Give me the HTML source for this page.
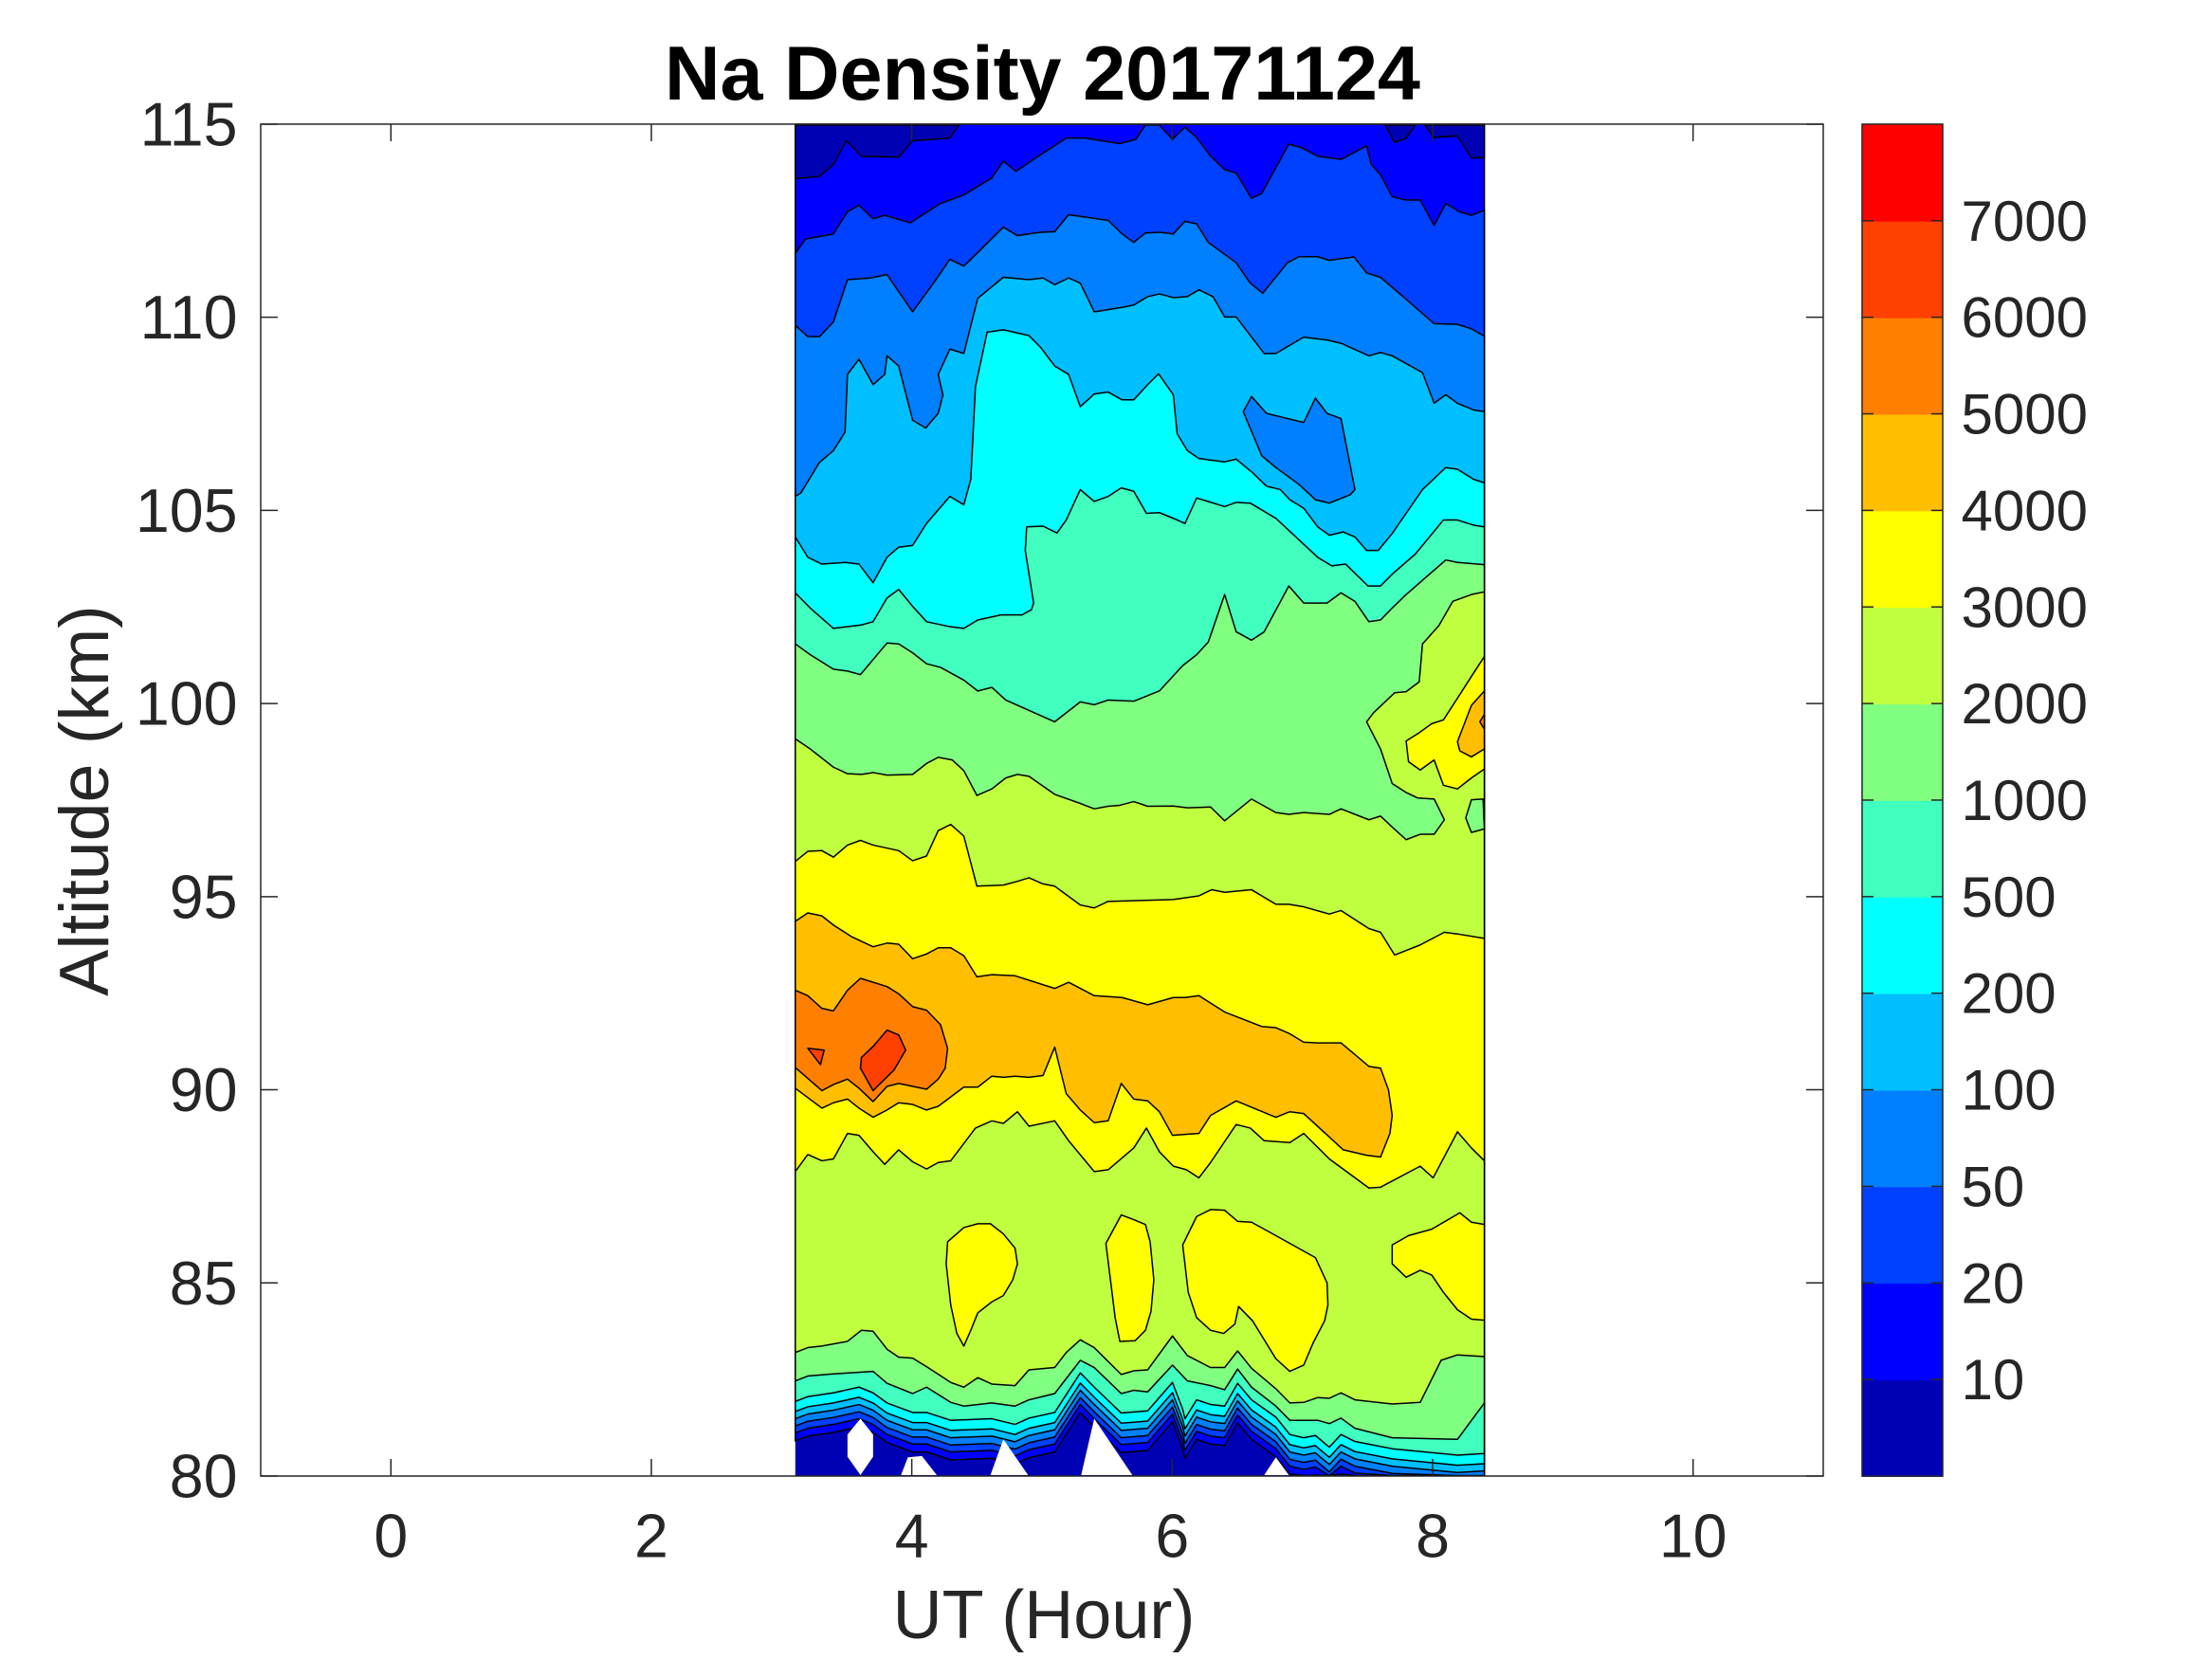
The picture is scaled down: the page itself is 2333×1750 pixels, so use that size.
<!DOCTYPE html>
<html><head><meta charset="utf-8">
<style>html,body{margin:0;padding:0;background:#fff}svg{display:block}</style>
</head><body>
<svg id="s" xmlns="http://www.w3.org/2000/svg" width="2333" height="1750" viewBox="0 0 1555.33 1166.67" font-family="Liberation Sans, Arial, sans-serif">
<rect width="1555.33" height="1166.67" fill="#fff"/>
<g id="data"></g>
<g id="axes" fill="none" stroke="#262626" stroke-width="1">
<rect x="183.3" y="87.3" width="1098.7" height="950.7"/>
</g>
<g id="lab" fill="#262626" font-size="43"></g>
<text x="733" y="70" text-anchor="middle" font-weight="bold" font-size="54" fill="#000">Na Density 20171124</text>
<text x="734" y="1152" text-anchor="middle" font-size="48" fill="#262626">UT (Hour)</text>
<text transform="translate(76,563) rotate(-90)" text-anchor="middle" font-size="49" fill="#262626">Altitude (km)</text>
</svg>
<script>
(function(){
const NS="http://www.w3.org/2000/svg";
const D=document.getElementById('data'),AX=document.getElementById('axes'),L=document.getElementById('lab');
const C=['#0000B4','#0000FF','#0040FF','#0080FF','#00BFFF','#00FFFF','#40FFBF','#80FF80','#BFFF40','#FFFF00','#FFBF00','#FF8000','#FF4000','#FF0000'];
function el(t,a,p){const e=document.createElementNS(NS,t);for(const k in a)e.setAttribute(k,a[k]);(p||D).appendChild(e);return e;}
const fx=z=>553.3+z*0.3274;
function cv(arr,yf){const o=[];for(let i=0;i<arr.length;i+=2)o.push([fx(arr[i]),yf(arr[i+1])]);return o;}
const A=a=>cv(a,z=>80+z*0.2381), B=a=>cv(a,z=>440+z*0.2551), Cc=a=>cv(a,z=>833.3+Math.min(z,920)*0.2222);
const X0=fx(18),X1=fx(1498),Y0=87.3,Y1=1038;
function poly(c,p,noStroke){el('polygon',{points:p.map(q=>q[0].toFixed(1)+','+q[1].toFixed(1)).join(' '),fill:c,stroke:noStroke?'none':'#000','stroke-width':1,'stroke-linejoin':'round'});}
function band(c,up,lo){poly(c,up.concat(lo.slice().reverse()));}
el('rect',{x:X0,y:Y0,width:X1-X0,height:Y1-Y0,fill:C[0]});
const topEdge=[[X0,Y0],[X1,Y0]];
const lo2000=Cc([18,530,45,515,75,510,130,495,160,460,185,463,215,520,240,545,270,548,300,575,352,625,380,640,410,610,440,630,490,635,520,585,575,578,600,530,630,490,660,515,718,600,745,588,775,585,828,478,860,540,910,578,940,578,968,525,998,580,1050,645,1080,690,1110,688,1140,673,1165,675,1190,658,1220,680,1300,693,1360,688,1405,555,1440,538,1498,543]);
const lo1000raw=[18,620,45,605,100,598,185,590,215,628,270,660,300,640,352,688,380,700,440,690,490,700,520,680,575,660,630,555,660,578,718,660,745,650,775,655,828,570,860,620,910,635,940,648,968,583,998,640,1050,700,1080,745,1140,745,1165,755,1190,738,1220,770,1300,800,1440,805,1498,690];
const lo500raw=[18,685,45,670,100,658,155,640,185,658,215,690,270,720,300,720,352,745,440,740,490,758,520,738,575,720,630,595,660,640,718,722,775,715,828,625,850,710,855,740,880,680,910,695,940,700,968,628,998,680,1050,735,1080,790,1110,800,1135,793,1165,830,1190,790,1220,812,1300,835,1440,855,1498,850];
function off(raw,d){const o=[];for(let i=0;i<raw.length;i+=2){o.push(raw[i],Math.min(raw[i+1]+d,920));}return Cc(o);}
const lo={1:off(lo500raw,125),2:off(lo500raw,100),3:off(lo500raw,78),4:off(lo500raw,55),5:off(lo500raw,32),6:Cc(lo500raw),7:Cc(lo1000raw),8:lo2000};
const U={};
U[1]=topEdge;
U[2]=A([18,412,40,370,100,355,130,290,155,270,185,310,210,300,265,322,330,265,380,240,440,190,465,140,492,170,530,135,600,72,640,72,715,88,750,75,770,33,800,33,828,75,855,40,880,70,910,125,940,165,965,175,998,250,1020,235,1078,90,1105,100,1140,125,1190,135,1245,95,1255,150,1275,180,1300,245,1330,255,1360,255,1390,330,1415,265,1445,290,1470,300,1498,285]);
U[3]=A([18,625,45,658,70,658,100,615,130,490,180,485,215,475,270,585,320,490,350,430,380,450,410,410,465,335,495,360,545,350,575,348,605,298,690,315,720,355,745,380,770,352,800,350,830,355,855,318,880,325,905,380,965,440,995,500,1022,530,1075,440,1100,422,1140,422,1165,433,1218,423,1245,470,1275,483,1340,560,1390,620,1440,622,1470,635,1498,657]);
U[4]=A([18,1130,30,1120,70,1030,100,995,125,940,130,770,155,725,185,800,210,770,215,715,240,745,270,905,298,928,325,885,335,830,325,770,350,695,380,708,410,545,465,483,520,490,550,485,575,505,605,485,630,500,660,585,720,572,745,565,775,540,800,532,830,543,860,540,885,520,915,540,940,600,965,600,1025,708,1050,708,1110,660,1160,668,1190,678,1250,715,1275,705,1300,715,1365,765,1390,855,1415,830,1440,855,1475,875,1498,880]);
U[5]=A([18,1250,45,1310,75,1330,125,1325,155,1330,185,1385,215,1310,240,1280,270,1275,300,1210,350,1130,380,1155,395,1080,405,805,430,645,465,638,520,655,545,690,575,745,605,770,630,865,660,828,690,822,720,845,745,845,775,800,798,768,830,830,838,945,860,995,885,1018,940,1028,965,1020,1000,1060,1030,1100,1060,1110,1080,1140,1110,1165,1140,1220,1165,1245,1195,1235,1220,1250,1245,1290,1270,1290,1300,1240,1330,1180,1365,1110,1415,1045,1440,1050,1475,1080,1498,1090]);
U[6]=A([18,1415,50,1460,100,1520,130,1515,160,1510,185,1500,215,1430,240,1405,270,1455,300,1500,350,1515,380,1520,410,1495,460,1480,505,1480,525,1465,530,1445,512,1290,515,1220,550,1218,580,1238,600,1200,630,1110,660,1145,690,1130,718,1105,745,1115,772,1180,800,1178,830,1195,855,1210,880,1135,940,1160,965,1148,995,1150,1050,1195,1140,1310,1170,1335,1200,1330,1248,1395,1275,1395,1300,1360,1350,1300,1410,1200,1440,1200,1475,1215,1498,1220]);
U[7]=B([18,50,50,80,100,120,130,125,158,135,215,48,240,50,270,75,300,105,330,115,380,150,410,180,440,170,470,205,575,265,630,210,660,218,690,205,745,208,800,180,850,110,880,80,905,45]).concat(A([940,1420,965,1530,998,1555,1025,1530,1078,1395,1110,1445,1160,1445,1190,1415,1220,1440,1250,1500,1275,1495,1300,1460,1330,1420,1415,1318,1440,1325,1498,1332]));
U[8]=B([18,312,50,340,100,390,130,408,160,410,185,405,215,412,270,410,300,380,325,363,355,370,380,400,408,468,440,450,470,420,495,410,520,415,575,465,630,490,660,505,690,498,715,495,745,485,775,498,830,497,860,502,910,500,940,538,998,478,1050,515,1078,520,1110,515,1165,520,1190,505,1250,535,1275,525,1300,555,1330,590,1360,575,1390,575,1412,535,1390,478,1355,475,1330,460,1300,435,1275,340,1245,265,1260,240,1305,185,1330,182,1358,155,1365,50,1400,0]).concat(A([1430,1440,1470,1420,1498,1412]));
for(let k=1;k<=8;k++){
  band(C[k],U[k],lo[k]);
  if(k===1){
    poly(C[0],A([18,33,370,33,350,72,270,80,240,128,160,126,128,80,100,150,70,185,18,192]));
    poly(C[0],A([1285,33,1305,85,1330,72,1350,33]));
    poly(C[0],A([1370,33,1390,70,1440,65,1470,130,1498,130,1498,33]));
  }
  if(k===4) poly(C[3],A([998,835,1030,885,1110,912,1135,840,1160,885,1190,900,1220,1110,1210,1125,1165,1150,1135,1140,1100,1095,1050,1045,1020,1010,980,880]));
}
poly(C[7],B([1470,480,1495,478,1498,560,1470,570,1458,530]));
const up3=B([18,650,45,622,75,620,100,638,130,605,158,592,185,605,240,620,270,648,300,635,325,565,352,548,380,580,408,718,465,715,495,705,520,695,550,712,575,718,630,770,660,778,690,760,830,755,885,745,912,728,940,735,998,728,1050,768,1078,768,1110,775,1165,795,1190,785,1250,835,1275,845,1305,908,1360,880,1412,845,1440,850,1498,862]);
const lo3=B([18,1505,45,1458,75,1475,100,1470,130,1400,155,1405,185,1450,210,1485,240,1445,270,1478,300,1498,325,1480,352,1475,405,1385,440,1365,465,1372,495,1340,520,1380,575,1365,605,1420,660,1505,690,1500,745,1440,772,1385,800,1450,830,1490,858,1500,885,1522,910,1480,965,1375,995,1385,1025,1420,1080,1425,1110,1400,1165,1470,1250,1550,1275,1548,1360,1490,1388,1522,1440,1395,1470,1440,1498,1475]);
band(C[9],up3,lo3);
poly(C[9],B([1330,318,1358,295,1385,270,1410,260,1440,200,1470,140,1498,85,1498,395,1470,420,1440,450,1410,440,1390,370,1360,398,1335,375]));
poly(C[10],B([1440,320,1470,220,1498,180,1498,340,1470,362,1445,345]));
poly(C[11],B([1488,265,1498,245,1498,285]));
poly(C[10],B([18,815,45,792,75,800,100,825,140,858,185,885,215,875,240,878,270,918,300,905,325,888,352,888,380,910,408,968,440,962,490,965,575,1000,605,983,660,1020,720,1025,775,1045,830,1025,855,1025,885,1020,940,1065,1020,1105,1050,1108,1080,1125,1110,1148,1140,1150,1190,1150,1250,1215,1275,1220,1292,1280,1300,1350,1295,1400,1275,1465,1245,1460,1195,1445,1110,1345,1080,1340,1050,1355,965,1310,910,1350,885,1400,858,1402,828,1405,800,1340,775,1310,745,1305,718,1262,690,1365,660,1370,630,1335,600,1290,575,1162,550,1240,520,1245,490,1242,465,1245,440,1242,410,1272,380,1272,325,1325,300,1335,270,1320,240,1315,215,1335,185,1355,155,1330,130,1305,100,1315,75,1330,18,1275]));
poly(C[11],B([18,1005,45,1020,75,1055,100,1062,130,1005,158,972,215,995,240,1015,270,1050,300,1060,330,1100,345,1165,340,1220,325,1250,300,1278,240,1262,215,1270,185,1312,155,1275,130,1250,100,1265,75,1282,18,1218]));
poly(C[12],B([160,1190,185,1160,215,1115,240,1128,255,1170,230,1225,185,1282,158,1220]));
poly(C[12],B([45,1165,80,1170,72,1210]));
poly(C[9],Cc([345,180,380,135,410,123,437,123,465,155,490,200,495,250,485,300,465,350,440,370,410,405,395,460,380,510,365,470,352,380,342,250]));
poly(C[9],Cc([685,185,718,95,745,110,770,125,780,180,788,300,782,400,770,460,748,493,715,495,705,420,695,300]));
poly(C[9],Cc([850,190,880,100,910,78,940,80,968,115,998,118,1050,160,1135,230,1160,310,1162,380,1155,430,1130,500,1110,570,1080,590,1050,550,1000,430,970,385,962,440,938,470,910,460,880,420,862,340]));
poly(C[9],Cc([1300,190,1335,160,1385,140,1445,88,1470,118,1498,125,1498,428,1470,425,1440,395,1410,340,1385,285,1360,270,1330,292,1300,250]));
[[130,790,158,740,185,790,185,860,158,918,130,860],[245,918,260,862,290,858,322,918],[437,918,465,805,518,918],[632,918,660,740,742,918],[1025,918,1050,862,1078,918]].forEach(p=>poly('#fff',Cc(p),true));
for(let hh=0;hh<=10;hh+=2){const x=183.3+(hh+1)*91.56;el('line',{x1:x,y1:Y1,x2:x,y2:Y1-12},AX);el('line',{x1:x,y1:Y0,x2:x,y2:Y0+12},AX);
 el('text',{x:x,y:1095,'text-anchor':'middle'},L).textContent=hh;}
for(let v=80;v<=115;v+=5){const y=Y1-(v-80)*(Y1-Y0)/35;el('line',{x1:183.3,y1:y,x2:195.3,y2:y},AX);el('line',{x1:1282,y1:y,x2:1270,y2:y},AX);
 el('text',{x:167,y:y+15,'text-anchor':'end'},L).textContent=v;}
const cx0=1309.3,cw=56.7,bh=(Y1-Y0)/14,lab=['10','20','50','100','200','500','1000','2000','3000','4000','5000','6000','7000'];
for(let i=0;i<14;i++)el('rect',{x:cx0,y:Y1-(i+1)*bh,width:cw,height:bh+0.6,fill:C[i]},D);
el('rect',{x:cx0,y:Y0,width:cw,height:Y1-Y0,fill:'none',stroke:'#262626','stroke-width':1},D);
for(let i=0;i<13;i++){const y=Y1-(i+1)*bh;el('line',{x1:cx0,y1:y,x2:cx0+8,y2:y,stroke:'#262626'},D);el('line',{x1:cx0+cw,y1:y,x2:cx0+cw-8,y2:y,stroke:'#262626'},D);
 el('text',{x:1379,y:y+14,'font-size':40},L).textContent=lab[i];}
})();
</script>
</body></html>
